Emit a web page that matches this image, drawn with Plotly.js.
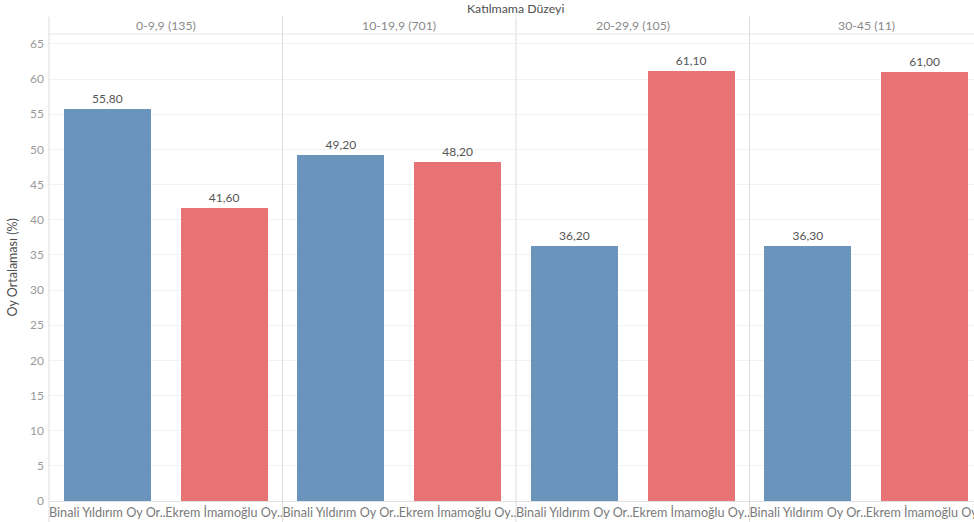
<!DOCTYPE html>
<html>
<head>
<meta charset="utf-8">
<script src="https://cdn.plot.ly/plotly-3.0.1.min.js"></script>
<style>html,body{margin:0;padding:0;background:#fff;}#chart{width:974px;height:522px;}</style>
</head>
<body>
<div id="chart"></div>
<script>
const groups = ["0-9,9 (135)", "10-19,9 (701)", "20-29,9 (105)", "30-45 (11)"];
const seriesNames = ["Binali Yıldırım Oy Or..", "Ekrem İmamoğlu Oy.."];
const binali = [55.8, 49.2, 36.2, 36.3];
const ekrem = [41.6, 48.2, 61.1, 61.0];
const yTicks = [0, 5, 10, 15, 20, 25, 30, 35, 40, 45, 50, 55, 60, 65];
const groupTitle = "Katılmama Düzeyi";
const yTitle = "Oy Ortalaması (%)";

const FONT = "Lato, 'Open Sans', sans-serif";
const nSeries = seriesNames.length;
const xB = groups.map((g, i) => i * nSeries);
const xE = groups.map((g, i) => i * nSeries + 1);
const tickVals = [], tickText = [];
groups.forEach((g, i) => seriesNames.forEach((s, j) => { tickVals.push(i * nSeries + j); tickText.push(s); }));

const common = {
  type: 'bar', width: 0.745,
  texttemplate: '%{y:.2f}', textposition: 'outside', cliponaxis: false,
  textfont: {family: FONT, size: 12, color: '#555'},
  hoverinfo: 'y', showlegend: false
};
const traces = [
  Object.assign({}, common, {x: xB, y: binali, name: seriesNames[0], marker: {color: '#6a94bb'}}),
  Object.assign({}, common, {x: xE, y: ekrem, name: seriesNames[1], marker: {color: '#e87375'}})
];

const shapes = [];
for (let i = 1; i < groups.length; i++) {
  shapes.push({type: 'line', xref: 'x', yref: 'paper', x0: i * nSeries - 0.5, x1: i * nSeries - 0.5,
    y0: -0.05, y1: 1.037, line: {color: '#dcdcdc', width: 1}, layer: 'above'});
}
shapes.push({type: 'line', xref: 'paper', yref: 'paper', x0: 0, x1: 0, y0: -0.05, y1: 1.037,
  line: {color: '#dcdcdc', width: 1}});
shapes.push({type: 'line', xref: 'paper', yref: 'paper', x0: 0, x1: 1, y0: 1, y1: 1,
  line: {color: '#e6e6e6', width: 1}});

const annotations = groups.map((g, i) => ({
  xref: 'x', yref: 'paper', x: i * nSeries + (nSeries - 1) / 2, y: 1.018, text: g,
  showarrow: false, font: {family: FONT, size: 12.3, color: '#8a8a8a'}, yanchor: 'middle'
}));
annotations.push({xref: 'paper', yref: 'paper', x: 0.504, y: 1.054, text: groupTitle, showarrow: false,
  font: {family: FONT, size: 12.3, color: '#505050'}, yanchor: 'middle'});
annotations.push({xref: 'paper', yref: 'paper', x: -0.04, y: 0.5, text: yTitle, textangle: -90, showarrow: false,
  font: {family: FONT, size: 12.5, color: '#505050'}, xanchor: 'center', yanchor: 'middle'});

const layout = {
  width: 974, height: 522,
  margin: {l: 49, r: 0, t: 34, b: 21, pad: 0},
  paper_bgcolor: '#fff', plot_bgcolor: '#fff',
  separators: ',.',
  bargap: 0,
  xaxis: {
    range: [-0.5, 7.423], tickvals: tickVals, ticktext: tickText, tickangle: 0,
    showgrid: false, zeroline: false, showline: true, linecolor: '#e0e0e0', ticks: '',
    ticklabeloverflow: 'allow',
    tickfont: {family: FONT, size: 12.6, color: '#7a7a7a'}, fixedrange: true
  },
  yaxis: {
    range: [0, 66.4], tickvals: yTicks, ticks: '', showline: false,
    gridcolor: '#f2f2f2', zeroline: false,
    tickfont: {family: FONT, size: 12, color: '#999'}, ticklabelstandoff: 4, fixedrange: true
  },
  shapes: shapes,
  annotations: annotations
};

Plotly.newPlot('chart', traces, layout, {displayModeBar: false, staticPlot: true});
</script>
</body>
</html>
